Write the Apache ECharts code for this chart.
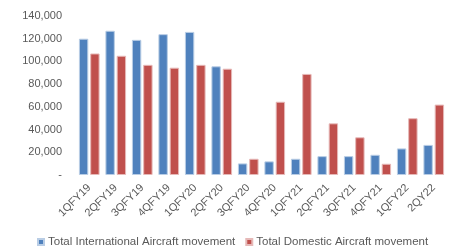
<!DOCTYPE html>
<html><head><meta charset="utf-8">
<script src="https://cdn.jsdelivr.net/npm/echarts@6/dist/echarts.min.js"></script>
<style>html,body{margin:0;padding:0;background:#fff}#c{width:454px;height:251px}</style>
</head><body><div id="c"></div>
<script>
const categories = ['1QFY19','2QFY19','3QFY19','4QFY19','1QFY20','2QFY20','3QFY20','4QFY20','1QFY21','2QFY21','3QFY21','4QFY21','1QFY22','2QY22'];
const international = [120000,127000,119000,124000,126000,95700,10200,12000,14300,16600,16600,17800,23400,26500];
const domestic = [107000,105000,97000,94500,97000,93600,14300,64500,89000,45500,33200,9900,50000,62000];
const yTicks = [0,20000,40000,60000,80000,100000,120000,140000];
const chart = echarts.init(document.getElementById('c'));
const fmt = v => v === 0 ? '-' : v.toLocaleString('en-US');
chart.setOption({
  animation:false,
  textStyle:{fontFamily:'Liberation Sans, Arial, sans-serif'},
  grid:{left:76,right:7,top:16,bottom:76},
  legend:{bottom:-2,left:32,itemWidth:6,itemHeight:6,itemGap:10,icon:'rect',
    textStyle:{color:'#595959',fontSize:11.5,padding:[0,0,0,-1]},
    data:['Total International Aircraft movement','Total Domestic Aircraft movement']},
  xAxis:{type:'category',data:categories,axisLine:{show:false},axisTick:{show:false},
    axisLabel:{rotate:45,color:'#595959',fontSize:11,margin:11,interval:0}},
  yAxis:{type:'value',min:0,max:140000,interval:20000,splitLine:{show:false},
    axisLine:{show:false},axisTick:{show:false},
    axisLabel:{color:'#595959',fontSize:11,margin:14,formatter:fmt}},
  series:[
    {name:'Total International Aircraft movement',type:'bar',data:international,barGap:'20%',barCategoryGap:'22%',
      itemStyle:{color:'#4F81BD',borderColor:'#B9CDE5',borderWidth:1}},
    {name:'Total Domestic Aircraft movement',type:'bar',data:domestic,
      itemStyle:{color:'#C0504D',borderColor:'#E6B9B8',borderWidth:1}}
  ]
});
</script></body></html>
